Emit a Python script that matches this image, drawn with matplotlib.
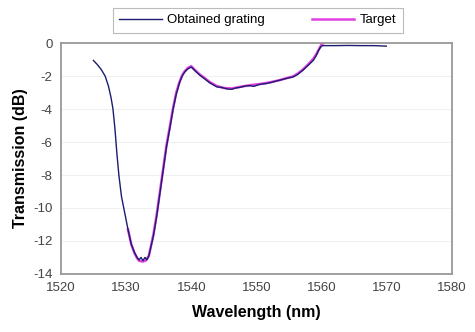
import matplotlib.pyplot as plt

plt.rcParams['font.family'] = ['Liberation Sans', 'DejaVu Sans']
plt.rcParams['axes.unicode_minus'] = False

# measured transmission of the written grating
obt_wl = [1525.0, 1525.6, 1526.2, 1526.8, 1527.3, 1527.7, 1528.0, 1528.3, 1528.6, 1528.9,
          1529.3, 1529.8, 1530.3, 1530.8, 1531.3, 1531.7, 1532.0, 1532.3, 1532.6, 1532.9,
          1533.2, 1533.5, 1534.2, 1534.7, 1535.2, 1535.7, 1536.2, 1536.7, 1537.2, 1537.7,
          1538.2, 1538.6, 1539.0, 1539.5, 1540.0, 1540.5, 1541.3, 1542.0, 1542.8, 1543.9,
          1544.8, 1545.5, 1546.2, 1546.8, 1547.5, 1548.2, 1549.0, 1549.6, 1550.5, 1551.5,
          1552.3, 1553.0, 1554.0, 1554.8, 1555.6, 1556.3, 1557.1, 1557.9, 1558.7, 1559.1,
          1559.5, 1559.8, 1560.1, 1562.0, 1564.0, 1566.0, 1568.0, 1569.9]
obt_db = [-1.05, -1.3, -1.6, -2.0, -2.6, -3.3, -4.0, -5.2, -6.7, -8.0,
          -9.3, -10.3, -11.3, -12.2, -12.7, -13.0, -13.15, -13.0, -13.2, -13.0,
          -13.15, -12.9, -11.7, -10.5, -9.1, -7.7, -6.3, -5.2, -4.05, -3.1,
          -2.4, -2.0, -1.75, -1.55, -1.45, -1.65, -1.94, -2.15, -2.4, -2.65,
          -2.7, -2.78, -2.8, -2.72, -2.68, -2.6, -2.58, -2.62, -2.5, -2.45,
          -2.38, -2.3, -2.2, -2.12, -2.05, -1.9, -1.65, -1.35, -1.05, -0.8,
          -0.45, -0.25, -0.15, -0.15, -0.14, -0.15, -0.15, -0.18]

# design target
tgt_wl = [1530.3, 1530.8, 1531.3, 1531.7, 1532.0, 1532.5, 1533.0, 1533.5, 1534.2, 1534.7,
          1535.2, 1535.7, 1536.2, 1536.7, 1537.2, 1537.7, 1538.2, 1538.6, 1539.0, 1539.5,
          1540.0, 1540.5, 1541.3, 1542.0, 1542.8, 1543.9, 1545.0, 1546.2, 1547.5, 1549.0,
          1550.5, 1552.0, 1553.5, 1554.8, 1555.6, 1556.3, 1557.1, 1557.9, 1558.7, 1559.2,
          1559.6, 1560.0, 1560.3]
tgt_db = [-11.3, -12.2, -12.75, -13.05, -13.2, -13.25, -13.2, -12.9, -11.6, -10.4,
          -9.0, -7.6, -6.2, -5.1, -3.95, -3.0, -2.35, -1.95, -1.7, -1.5,
          -1.4, -1.6, -1.9, -2.1, -2.35, -2.6, -2.72, -2.75, -2.65, -2.55,
          -2.48, -2.38, -2.25, -2.1, -2.02, -1.85, -1.6, -1.3, -0.95, -0.65,
          -0.35, -0.05, 0.0]

fig = plt.figure(figsize=(4.75, 3.32), dpi=100)
ax = fig.add_axes([0.128, 0.175, 0.824, 0.695])

ax.plot(tgt_wl, tgt_db, color='#e040e0', lw=1.8, label='Target', zorder=2)
ax.plot(obt_wl, obt_db, color='#1c1c70', lw=1.0, label='Obtained grating', zorder=3)

ax.set_xlim(1520, 1580)
ax.set_ylim(-14, 0)
ax.set_xticks(range(1520, 1581, 10))
ax.set_yticks(range(-14, 1, 2))
ax.tick_params(length=0, labelsize=9.5, labelcolor='#444444', pad=6)
ax.grid(axis='y', color='#f0f0f0', lw=0.8)
ax.set_axisbelow(True)
for s in ax.spines.values():
    s.set_color('#999999')
    s.set_linewidth(1.3)

ax.set_xlabel('Wavelength (nm)', fontsize=11.5, fontweight='bold', labelpad=8)
ax.set_ylabel('Transmission (dB)', fontsize=11.5, fontweight='bold', labelpad=4)

h, l = ax.get_legend_handles_labels()
leg = fig.legend(h[::-1], l[::-1], ncol=2, loc='center',
                 bbox_to_anchor=(0.543, 0.939), fontsize=9.5, frameon=True,
                 fancybox=False, edgecolor='#aaaaaa', handlelength=3.2,
                 handletextpad=0.4, columnspacing=3.6, borderpad=0.5)
leg.get_frame().set_linewidth(0.8)

fig.savefig('out.png', dpi=100)
